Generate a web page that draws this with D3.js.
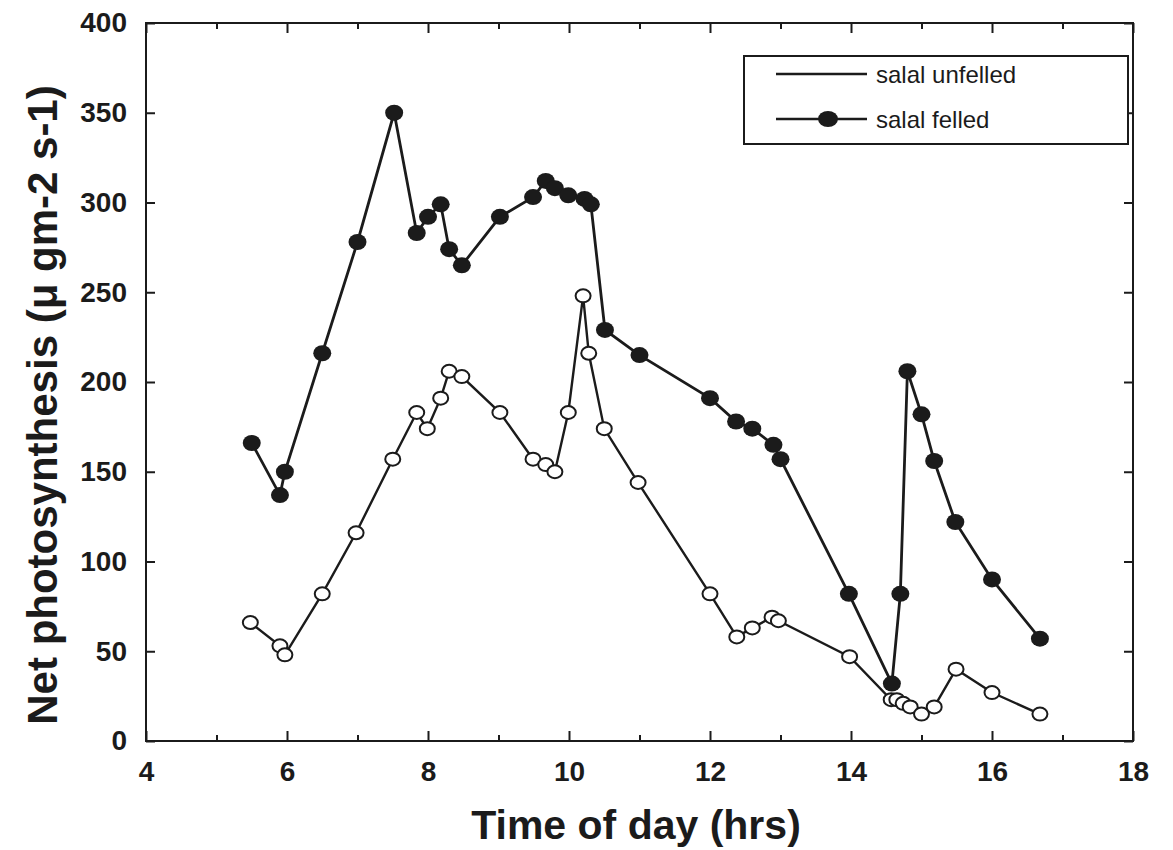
<!DOCTYPE html>
<html><head><meta charset="utf-8">
<script src="https://cdn.jsdelivr.net/npm/d3@7"></script>
<style>body{margin:0;background:#fff}</style>
</head><body>
<svg id="c" width="1173" height="850"></svg>
<script>
const felledX = [5.5,5.9,5.97,6.5,7.0,7.52,7.84,8.0,8.18,8.3,8.48,9.02,9.49,9.67,9.8,9.99,10.22,10.31,10.51,11.0,12.0,12.37,12.6,12.9,13.0,13.97,14.58,14.7,14.8,15.0,15.18,15.48,16.0,16.68];
const felledY = [166,137,150,216,278,350,283,292,299,274,265,292,303,312,308,304,302,299,229,215,191,178,174,165,157,82,32,82,206,182,156,122,90,57];
const unfelledX = [5.48,5.9,5.97,6.5,6.98,7.5,7.84,7.99,8.18,8.3,8.48,9.02,9.49,9.67,9.8,9.99,10.2,10.28,10.5,10.98,12.0,12.38,12.6,12.88,12.97,13.98,14.57,14.65,14.74,14.84,15.0,15.18,15.49,16.0,16.68];
const unfelledY = [66,53,48,82,116,157,183,174,191,206,203,183,157,154,150,183,248,216,174,144,82,58,63,69,67,47,23,23,21,19,15,19,40,27,15];
const xTicks = [4,6,8,10,12,14,16,18];
const xMinor = [5,7,9,11,13,15,17];
const yTicks = [0,50,100,150,200,250,300,350,400];
const seriesNames = ["salal unfelled","salal felled"];

const svg = d3.select("#c");
const L=146,R=1133,T=23,B=741;
const x = d3.scaleLinear().domain([4,18]).range([L,R]);
const y = d3.scaleLinear().domain([0,400]).range([B,T]);
const ink="#1b1b1b";
const font="'Liberation Sans', Arial, sans-serif";

// frame
svg.append("rect").attr("x",L).attr("y",T).attr("width",R-L).attr("height",B-T)
  .attr("fill","none").attr("stroke",ink).attr("stroke-width",2);

// bottom axis
const xb = svg.append("g").attr("transform",`translate(0,${B})`)
  .call(d3.axisBottom(x).tickValues(xTicks).tickSizeInner(-10).tickSizeOuter(0).tickPadding(20).tickFormat(d3.format("d")));
xb.select(".domain").remove();
xb.selectAll("line").attr("stroke",ink).attr("stroke-width",2);
xb.selectAll("text").attr("font-family",font).attr("font-weight","bold").attr("font-size",28).attr("fill",ink);
const xbm = svg.append("g").attr("transform",`translate(0,${B})`)
  .call(d3.axisBottom(x).tickValues(xMinor).tickSize(-6).tickFormat(""));
xbm.select(".domain").remove(); xbm.selectAll("line").attr("stroke",ink).attr("stroke-width",2);
// top axis
const xt = svg.append("g").attr("transform",`translate(0,${T})`)
  .call(d3.axisTop(x).tickValues(xTicks).tickSize(-10).tickFormat(""));
xt.select(".domain").remove(); xt.selectAll("line").attr("stroke",ink).attr("stroke-width",2);
const xtm = svg.append("g").attr("transform",`translate(0,${T})`)
  .call(d3.axisTop(x).tickValues(xMinor).tickSize(-6).tickFormat(""));
xtm.select(".domain").remove(); xtm.selectAll("line").attr("stroke",ink).attr("stroke-width",2);

// left axis
const yl = svg.append("g").attr("transform",`translate(${L},0)`)
  .call(d3.axisLeft(y).tickValues(yTicks).tickSizeInner(-9).tickSizeOuter(0).tickPadding(19).tickFormat(d3.format("d")));
yl.select(".domain").remove();
yl.selectAll("line").attr("stroke",ink).attr("stroke-width",2);
yl.selectAll("text").attr("font-family",font).attr("font-weight","bold").attr("font-size",28).attr("fill",ink);
// right axis
const yr = svg.append("g").attr("transform",`translate(${R},0)`)
  .call(d3.axisRight(y).tickValues(yTicks).tickSize(-9).tickFormat(""));
yr.select(".domain").remove(); yr.selectAll("line").attr("stroke",ink).attr("stroke-width",2);

// axis titles
svg.append("text").attr("x",636).attr("y",839).attr("text-anchor","middle")
  .attr("font-family",font).attr("font-weight","bold").attr("font-size",41).attr("fill",ink)
  .text("Time of day (hrs)");
svg.append("text").attr("transform","translate(57,405) rotate(-90)").attr("text-anchor","middle")
  .attr("font-family",font).attr("font-weight","bold").attr("font-size",42).attr("fill",ink)
  .text("Net photosynthesis (μ gm-2 s-1)");

const line = d3.line().x(d=>x(d[0])).y(d=>y(d[1]));
const felled = felledX.map((v,i)=>[v,felledY[i]]);
const unfelled = unfelledX.map((v,i)=>[v,unfelledY[i]]);

svg.append("path").datum(unfelled).attr("d",line).attr("fill","none").attr("stroke",ink).attr("stroke-width",2.4);
svg.append("path").datum(felled).attr("d",line).attr("fill","none").attr("stroke",ink).attr("stroke-width",2.8);

svg.append("g").selectAll("ellipse").data(unfelled).join("ellipse")
  .attr("cx",d=>x(d[0])).attr("cy",d=>y(d[1])).attr("rx",7.5).attr("ry",6.5)
  .attr("fill","#fff").attr("stroke",ink).attr("stroke-width",2);
svg.append("g").selectAll("ellipse").data(felled).join("ellipse")
  .attr("cx",d=>x(d[0])).attr("cy",d=>y(d[1])).attr("rx",9).attr("ry",8)
  .attr("fill",ink);

// legend
const lg = svg.append("g");
lg.append("rect").attr("x",744).attr("y",56).attr("width",384).attr("height",88)
  .attr("fill","#fff").attr("stroke",ink).attr("stroke-width",2);
lg.append("line").attr("x1",776).attr("x2",867).attr("y1",74).attr("y2",74).attr("stroke",ink).attr("stroke-width",2.4);
lg.append("line").attr("x1",776).attr("x2",867).attr("y1",119).attr("y2",119).attr("stroke",ink).attr("stroke-width",2.6);
lg.append("ellipse").attr("cx",828).attr("cy",119).attr("rx",10).attr("ry",8).attr("fill",ink);
lg.selectAll("text.lab").data(seriesNames).join("text").attr("class","lab")
  .attr("x",876).attr("y",(d,i)=>83+i*45)
  .attr("font-family",font).attr("font-size",24).attr("fill",ink).text(d=>d);
</script>
</body></html>
